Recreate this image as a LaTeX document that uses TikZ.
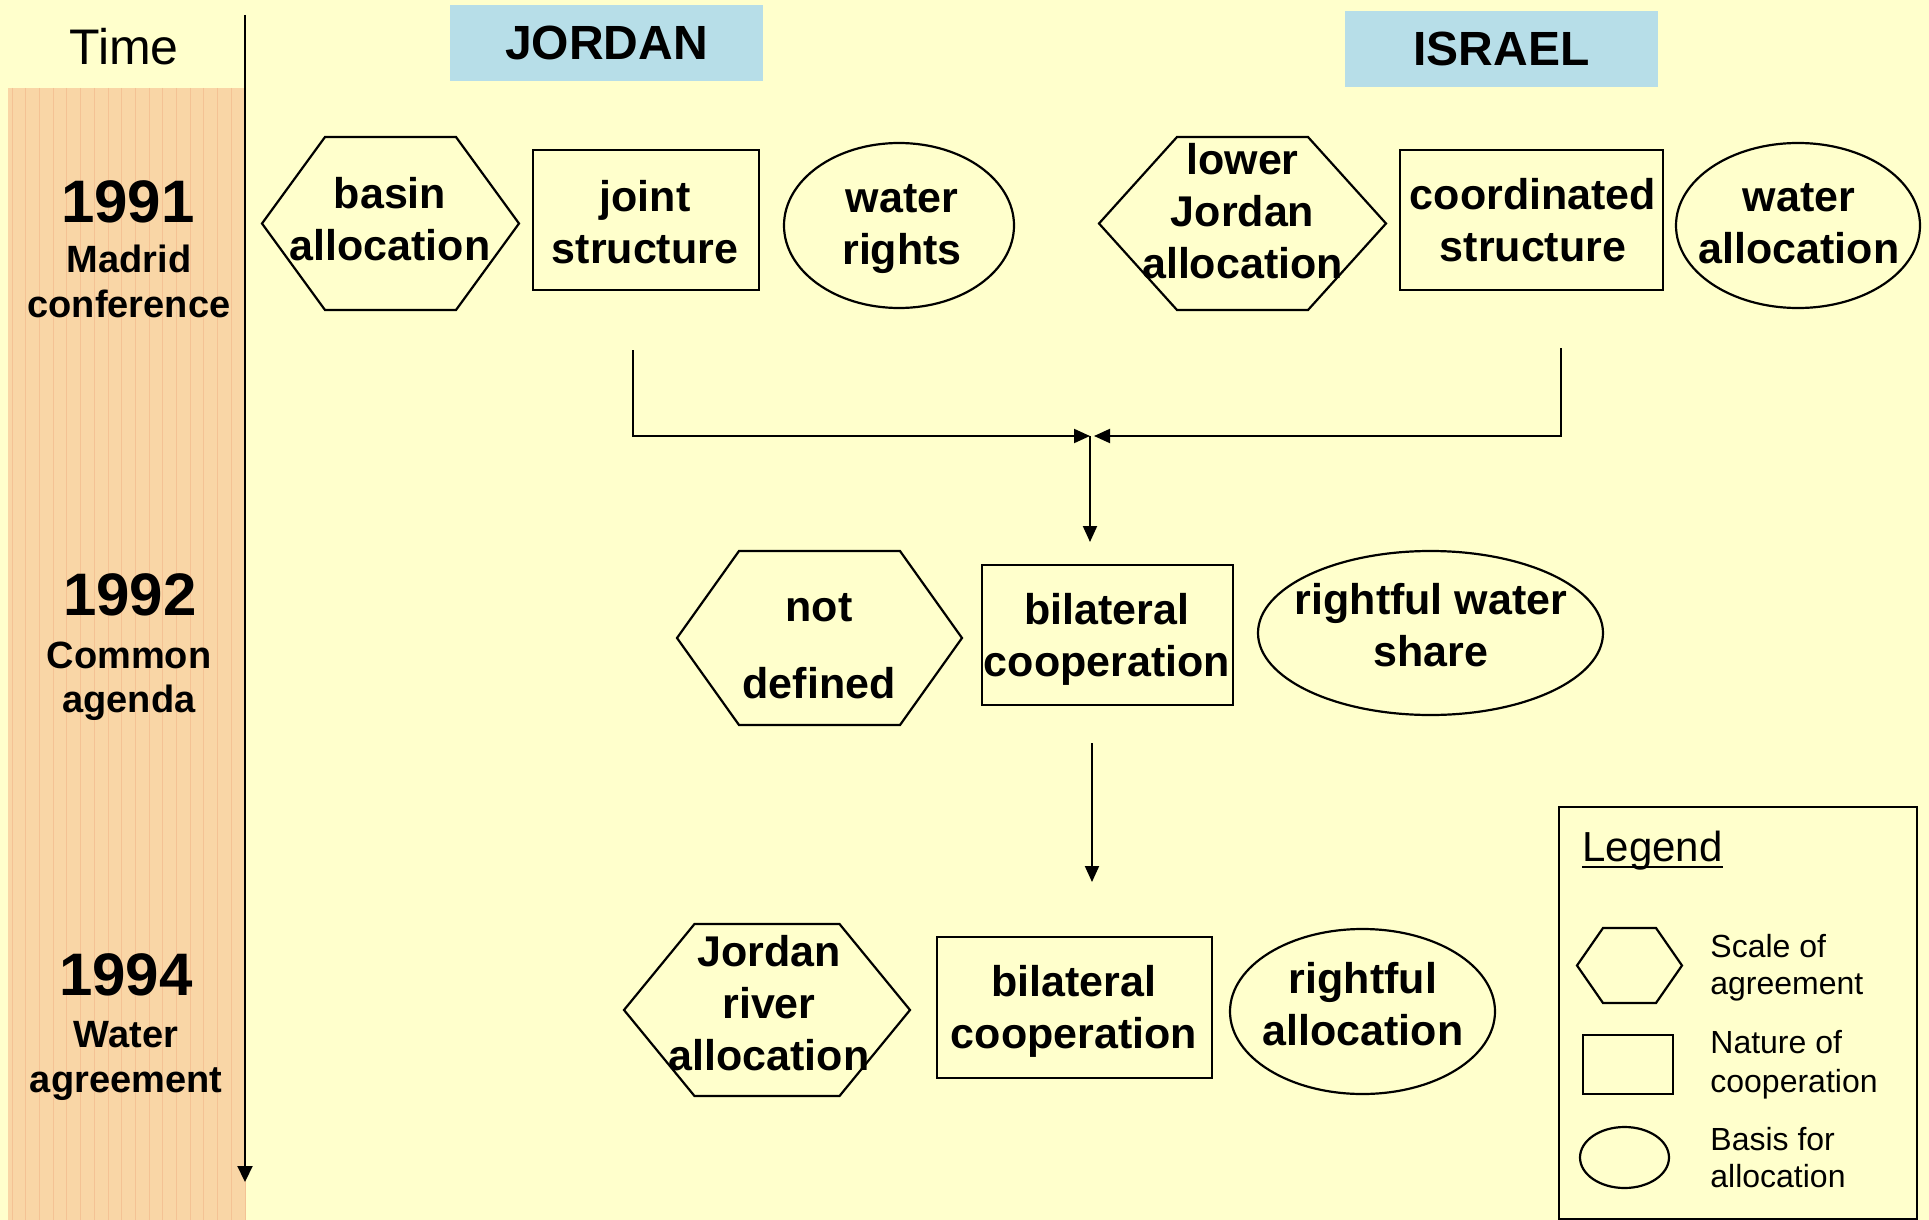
\documentclass[tikz,border=0pt]{standalone}
\usepackage{fontspec}
\setmainfont{Liberation Sans}
\usetikzlibrary{shapes.geometric,arrows.meta}
\definecolor{bgyellow}{RGB}{255,255,204}
\definecolor{peach}{RGB}{249,214,166}
\definecolor{peachline}{RGB}{244,194,148}
\definecolor{hdrblue}{RGB}{183,222,232}
\newcommand\hexshape[5]{% cx, cy, half width, half top edge, half height
  \draw[shp] ({#1-#3},{#2}) -- ({#1-#4},{#2-#5}) -- ({#1+#4},{#2-#5}) -- ({#1+#3},{#2}) -- ({#1+#4},{#2+#5}) -- ({#1-#4},{#2+#5}) -- cycle;}
\begin{document}
\begin{tikzpicture}[x=0.5pt,y=-0.5pt,
  shp/.style={draw=black,line width=1.1pt},
  boxshape/.style={shp,rectangle,inner sep=0pt},
  ellshape/.style={shp,ellipse,inner sep=0pt},
  lbl/.style={font=\bfseries\fontsize{21.5}{26}\selectfont,align=center,inner sep=0pt},
  yr/.style={font=\bfseries\fontsize{30}{36}\selectfont,anchor=base,inner sep=0pt},
  yrsub/.style={font=\bfseries\fontsize{19}{22}\selectfont,anchor=base,inner sep=0pt},
  hdr/.style={fill=hdrblue,inner sep=0pt,font=\bfseries\fontsize{24}{28}\selectfont,minimum width=156.5pt,minimum height=38pt},
  leg/.style={font=\fontsize{16}{19}\selectfont,anchor=base west,inner sep=0pt},
  conn/.style={line width=1pt,-{Triangle[length=8pt,width=7pt]}},
]
\useasboundingbox (0,0) rectangle (1929,1220);
\fill[bgyellow] (0,0) rectangle (1929,1220);
% time column
\fill[peach] (8,88) rectangle (245,1220);
\foreach \i in {0,...,17}
  \draw[peachline,line width=0.35pt] ({12+13.7*\i},88) -- ({12+13.7*\i},1220);
\node[font=\fontsize{25}{30}\selectfont,inner sep=0pt] (time) at (124,47) {Time};
\coordinate (axtop) at (245,15);
\coordinate (axbot) at (245,1182);
\draw[line width=1.1pt,-{Triangle[length=8pt,width=7.5pt]}] (axtop) -- (axbot);
\node[yr] (y91) at (128,222) {1991};
\node[yrsub] (y91a) at (129,272) {Madrid};
\node[yrsub] (y91b) at (129,317) {conference};
\node[yr] (y92) at (130,615) {1992};
\node[yrsub] (y92a) at (129,668) {Common};
\node[yrsub] (y92b) at (129,712) {agenda};
\node[yr] (y94) at (126,995) {1994};
\node[yrsub] (y94a) at (126,1047) {Water};
\node[yrsub] (y94b) at (126,1092) {agreement};
% headers
\node[hdr] (jordan) at (606.5,43) {JORDAN};
\node[hdr] (israel) at (1501.5,49) {ISRAEL};
% row 1991
\hexshape{390.5}{223.5}{128.5}{65.5}{86.5}
\node[lbl] (basin) at (390,219) {basin\\allocation};
\node[boxshape,minimum width=113pt,minimum height=70pt] (jointbox) at (646,220) {};
\node[lbl] (joint) at (645,222) {joint\\structure};
\node[ellshape,minimum width=115pt,minimum height=82.5pt] (wrell) at (899,225.5) {};
\node[lbl] (wr) at (902,229) {water\\rights};
\hexshape{1242.5}{223.5}{143.5}{65.5}{86.5}
\node[lbl] (lja) at (1242.5,211) {lower\\Jordan\\allocation};
\node[boxshape,minimum width=131.5pt,minimum height=70pt] (coordbox) at (1531.5,220) {};
\node[lbl] (coord) at (1533,220) {coordinated\\structure};
\node[ellshape,minimum width=122pt,minimum height=82.5pt] (waell) at (1798,225.5) {};
\node[lbl] (wa) at (1799,224) {water\\allocation};
% connectors
\coordinate (jl) at (633,350);
\coordinate (jc) at (633,436);
\coordinate (rl) at (1561,348);
\coordinate (rc) at (1561,436);
\coordinate (mL) at (1090,436);
\coordinate (mR) at (1094,436);
\coordinate (dbot) at (1090,542);
\draw[conn] (jl) -- (jc) -- (mL);
\draw[conn] (rl) -- (rc) -- (mR);
\draw[conn] (mL) -- (dbot);
% row 1992
\hexshape{819.5}{638}{142.5}{80.5}{87}
\node[lbl] (notdef) at (819,646) {not\\[12.5pt]defined};
\node[boxshape,minimum width=125.5pt,minimum height=70pt] (bil1box) at (1107.5,635) {};
\node[lbl] (bil1) at (1107,639) {bilateral\\cooperation};
\node[ellshape,minimum width=172.5pt,minimum height=82pt] (rwsell) at (1430.5,633) {};
\node[lbl] (rws) at (1431,625) {rightful water\\share};
\coordinate (d2top) at (1092,743);
\coordinate (d2bot) at (1092,882);
\draw[conn] (d2top) -- (d2bot);
% row 1994
\hexshape{767}{1010}{143}{72.5}{86}
\node[lbl] (jra) at (769,1003) {Jordan\\river\\allocation};
\node[boxshape,minimum width=137.5pt,minimum height=70.5pt] (bil2box) at (1074.5,1007.5) {};
\node[lbl] (bil2) at (1074,1011) {bilateral\\cooperation};
\node[ellshape,minimum width=132.5pt,minimum height=82.5pt] (raell) at (1362.5,1011.5) {};
\node[lbl] (ra) at (1363,1004) {rightful\\allocation};
% legend
\node[draw=black,line width=1.1pt,inner sep=0pt,minimum width=179pt,minimum height=206pt] (legbox) at (1738,1013) {};
\node[font=\fontsize{21}{25}\selectfont,anchor=base west,inner sep=0pt] (lt) at (1582,861) {Legend};
\draw[line width=1.3pt] ([yshift=-3pt]lt.base west) -- ([yshift=-3pt]lt.base east);
\hexshape{1629.5}{965.5}{52.5}{26.5}{37.5}
\node[boxshape,minimum width=45pt,minimum height=29.5pt] (legrect) at (1628,1064.5) {};
\node[ellshape,minimum width=44.5pt,minimum height=30.5pt] (legell) at (1624.5,1157.5) {};
\node[leg] (l1a) at (1710,957) {Scale of};
\node[leg] (l1b) at (1710,994) {agreement};
\node[leg] (l2a) at (1710,1053) {Nature of};
\node[leg] (l2b) at (1710,1092) {cooperation};
\node[leg] (l3a) at (1710,1150) {Basis for};
\node[leg] (l3b) at (1710,1187) {allocation};
\end{tikzpicture}
\end{document}
